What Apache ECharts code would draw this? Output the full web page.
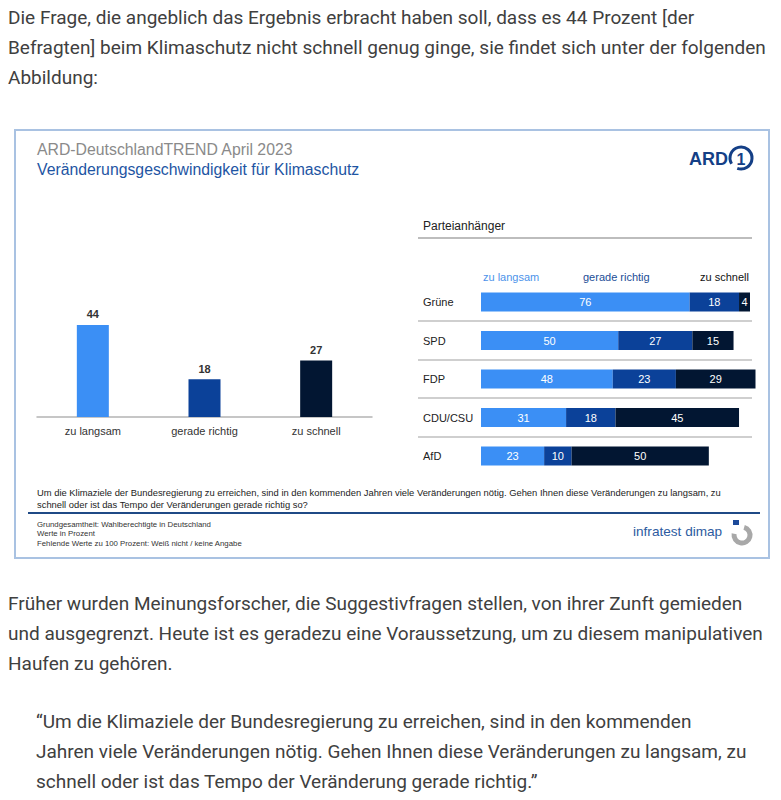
<!DOCTYPE html>
<html>
<head>
<meta charset="utf-8">
<script src="https://cdn.jsdelivr.net/npm/echarts@6/dist/echarts.min.js"></script>
<style>
  html, body { margin: 0; padding: 0; background: #fff; }
  #page { position: relative; width: 781px; height: 800px; overflow: hidden; }
  #chart { position: absolute; left: 0; top: 0; width: 781px; height: 800px; z-index: 0; }
  .p { position: absolute; z-index: 1; font-family: Roboto, "Noto Sans", sans-serif; font-size: 19px; line-height: 30px; color: #404040; white-space: nowrap; }
</style>
</head>
<body>
<div id="page">
  <div id="chart"></div>
  <div class="p" style="left:8px; top:3px;">Die Frage, die angeblich das Ergebnis erbracht haben soll, dass es 44 Prozent [der<br>Befragten] beim Klimaschutz nicht schnell genug ginge, sie findet sich unter der folgenden<br>Abbildung:</div>
  <div class="p" style="left:8px; top:589px;">Früher wurden Meinungsforscher, die Suggestivfragen stellen, von ihrer Zunft gemieden<br>und ausgegrenzt. Heute ist es geradezu eine Voraussetzung, um zu diesem manipulativen<br>Haufen zu gehören.</div>
  <div class="p" style="left:36px; top:707px;">“Um die Klimaziele der Bundesregierung zu erreichen, sind in den kommenden<br>Jahren viele Veränderungen nötig. Gehen Ihnen diese Veränderungen zu langsam, zu<br>schnell oder ist das Tempo der Veränderung gerade richtig.”</div>
</div>
<script>
// ---- data ----
const overallCategories = ['zu langsam', 'gerade richtig', 'zu schnell'];
const overallValues = [44, 18, 27];
const parties = ['Grüne', 'SPD', 'FDP', 'CDU/CSU', 'AfD'];
const zuLangsam = [76, 50, 48, 31, 23];
const geradeRichtig = [18, 27, 23, 18, 10];
const zuSchnell = [4, 15, 29, 45, 50];
const seriesNames = ['zu langsam', 'gerade richtig', 'zu schnell'];

// ---- styles ----
const C_LIGHT = '#3b8ff5';
const C_MID = '#0b4199';
const C_DARK = '#021632';
const colors = [C_LIGHT, C_MID, C_DARK];
const legendColors = ['#4d93ea', '#1b4d96', '#111111'];
const FONT = '"Liberation Sans", Arial, sans-serif';

const chart = echarts.init(document.getElementById('chart'), null, { renderer: 'svg' });

const legendLefts = [473, 573, 690];

const option = {
  backgroundColor: 'transparent',
  animation: false,
  textStyle: { fontFamily: FONT },
  legend: seriesNames.map((n, i) => ({
    data: [n],
    left: legendLefts[i],
    top: 265,
    icon: 'none',
    itemWidth: 0,
    itemHeight: 14,
    selectedMode: false,
    textStyle: { color: legendColors[i], fontSize: 11, fontFamily: FONT }
  })),
  grid: [
    { left: 37, right: 409, top: 291.5, bottom: 383, containLabel: false },
    { left: 481, right: 25.5, top: 282.75, bottom: 324.75, containLabel: false }
  ],
  xAxis: [
    {
      gridIndex: 0, type: 'category', data: overallCategories,
      axisLine: { show: true, lineStyle: { color: '#b4b4b4', width: 1.5 } },
      axisTick: { show: false },
      axisLabel: { color: '#333', fontSize: 11, margin: 8, fontFamily: FONT }
    },
    { gridIndex: 1, type: 'value', min: 0, max: 100, show: false }
  ],
  yAxis: [
    { gridIndex: 0, type: 'value', min: 0, max: 60, show: false },
    {
      gridIndex: 1, type: 'category', data: parties, inverse: true,
      axisLine: { show: false }, axisTick: { show: false }, splitLine: { show: false },
      axisLabel: { align: 'left', margin: 58, color: '#222', fontSize: 11, fontFamily: FONT }
    }
  ],
  series: [
    {
      name: 'gesamt', type: 'bar', xAxisIndex: 0, yAxisIndex: 0,
      barWidth: 32,
      data: overallValues.map((v, i) => ({ value: v, itemStyle: { color: colors[i] } })),
      label: { show: true, position: 'top', distance: 5, color: '#333', fontSize: 11, fontWeight: 'bold', fontFamily: FONT }
    },
    ...[zuLangsam, geradeRichtig, zuSchnell].map((arr, i) => ({
      name: seriesNames[i], type: 'bar', stack: 'parteien',
      xAxisIndex: 1, yAxisIndex: 1, barWidth: 19,
      itemStyle: { color: colors[i] },
      data: arr,
      label: { show: true, position: 'inside', color: '#fff', fontSize: 11, fontFamily: FONT }
    }))
  ]
};
chart.setOption(option);

// separators between party rows, derived from the category axis
const sepLines = [];
for (let i = 0; i < parties.length - 1; i++) {
  const y1 = chart.convertToPixel({ yAxisIndex: 1 }, parties[i]);
  const y2 = chart.convertToPixel({ yAxisIndex: 1 }, parties[i + 1]);
  const y = Math.round((y1 + y2) / 2);
  sepLines.push({ type: 'line', shape: { x1: 418, y1: y, x2: 752, y2: y }, style: { stroke: '#cfcfcf', lineWidth: 2 } });
}

const graphic = [
  // frame
  { type: 'rect', shape: { x: 15, y: 130, width: 754, height: 428 }, style: { fill: 'none', stroke: '#a9c2e2', lineWidth: 2 }, z: -1 },
  // titles
  { type: 'text', x: 37, y: 149, style: { text: 'ARD-DeutschlandTREND April 2023', fill: '#8a8a8a', font: '15.8px ' + FONT, verticalAlign: 'middle' } },
  { type: 'text', x: 37, y: 169, style: { text: 'Veränderungsgeschwindigkeit für Klimaschutz', fill: '#1e55a3', font: '15.8px ' + FONT, verticalAlign: 'middle' } },
  // ARD logo
  { type: 'text', x: 689, y: 159, style: { text: 'ARD', fill: '#143f86', font: 'bold 18px ' + FONT, verticalAlign: 'middle' } },
  { type: 'arc', shape: { cx: 741, cy: 158, r: 11, startAngle: 2.6, endAngle: 2.6 + 5.6, clockwise: true }, style: { stroke: '#143f86', lineWidth: 3, fill: 'none' } },
  { type: 'text', x: 741, y: 159, style: { text: '1', fill: '#143f86', font: 'bold 16px ' + FONT, align: 'center', verticalAlign: 'middle' } },
  // Parteianhänger
  { type: 'text', x: 423, y: 226, style: { text: 'Parteianhänger', fill: '#222', font: '12px ' + FONT, verticalAlign: 'middle' } },
  { type: 'line', shape: { x1: 418, y1: 238, x2: 752, y2: 238 }, style: { stroke: '#bdbdbd', lineWidth: 2 } },
  ...sepLines,
  // question
  { type: 'text', x: 37, y: 492, style: { text: 'Um die Klimaziele der Bundesregierung zu erreichen, sind in den kommenden Jahren viele Veränderungen nötig. Gehen Ihnen diese Veränderungen zu langsam, zu', fill: '#222', font: '9.4px ' + FONT, verticalAlign: 'middle' } },
  { type: 'text', x: 37, y: 504, style: { text: 'schnell oder ist das Tempo der Veränderungen gerade richtig so?', fill: '#222', font: '9.4px ' + FONT, verticalAlign: 'middle' } },
  { type: 'line', shape: { x1: 28, y1: 513, x2: 760, y2: 513 }, style: { stroke: '#1f4a86', lineWidth: 2 } },
  // footnotes
  { type: 'text', x: 37, y: 524, style: { text: 'Grundgesamtheit: Wahlberechtigte in Deutschland', fill: '#333', font: '7.8px ' + FONT, verticalAlign: 'middle' } },
  { type: 'text', x: 37, y: 533.5, style: { text: 'Werte in Prozent', fill: '#333', font: '7.8px ' + FONT, verticalAlign: 'middle' } },
  { type: 'text', x: 37, y: 543, style: { text: 'Fehlende Werte zu 100 Prozent: Weiß nicht / keine Angabe', fill: '#333', font: '7.8px ' + FONT, verticalAlign: 'middle' } },
  // infratest dimap
  { type: 'text', x: 633, y: 531, style: { text: 'infratest dimap', fill: '#2d5ba0', font: '13.6px "Liberation Sans Narrow", ' + FONT, verticalAlign: 'middle' } },
  { type: 'arc', shape: { cx: 742, cy: 535, r: 8, startAngle: -1.3, endAngle: 3.3, clockwise: true }, style: { stroke: '#a8a8a8', lineWidth: 5, fill: 'none' } },
  { type: 'rect', shape: { x: 733, y: 520, width: 6, height: 5 }, style: { fill: '#1d4a9a' } }
];
chart.setOption({ graphic: graphic });
</script>
</body>
</html>
